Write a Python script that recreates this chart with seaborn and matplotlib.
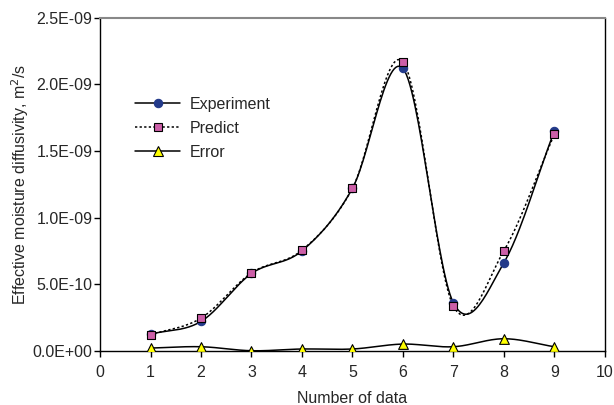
import numpy as np
import pandas as pd
import seaborn as sns
import matplotlib.pyplot as plt
from matplotlib.ticker import FuncFormatter

# ----------------------------
# data
# ----------------------------
n_data = [1, 2, 3, 4, 5, 6, 7, 8, 9]
experiment = [1.25e-10, 2.2e-10, 5.8e-10, 7.5e-10, 1.22e-09, 2.12e-09, 3.6e-10, 6.6e-10, 1.65e-09]
predict = [1.2e-10, 2.45e-10, 5.85e-10, 7.55e-10, 1.22e-09, 2.17e-09, 3.35e-10, 7.5e-10, 1.625e-09]
error = [2.0e-11, 3.0e-11, 0.0, 1.3e-11, 1.3e-11, 5.0e-11, 3.0e-11, 9.0e-11, 3.0e-11]

x_ticks = list(range(0, 11))
y_ticks = [0.0, 5e-10, 1e-09, 1.5e-09, 2e-09, 2.5e-09]


def smooth(x, y, steps=30):
    # catmull-rom style smoothing, like the spreadsheet "smoothed line"
    x = np.asarray(x, float)
    y = np.asarray(y, float)
    px = np.concatenate([[2 * x[0] - x[1]], x, [2 * x[-1] - x[-2]]])
    py = np.concatenate([[2 * y[0] - y[1]], y, [2 * y[-1] - y[-2]]])
    xs, ys = [], []
    t = np.linspace(0, 1, steps)
    for i in range(1, len(px) - 2):
        for p, out in ((px, xs), (py, ys)):
            p0, p1, p2, p3 = p[i - 1], p[i], p[i + 1], p[i + 2]
            out.extend(0.5 * ((2 * p1) + (-p0 + p2) * t
                              + (2 * p0 - 5 * p1 + 4 * p2 - p3) * t ** 2
                              + (-p0 + 3 * p1 - 3 * p2 + p3) * t ** 3))
    return np.array(xs), np.array(ys)


df = pd.DataFrame({"n": n_data, "Experiment": experiment,
                   "Predict": predict, "Error": error})

sns.set_theme(style="white")
plt.rcParams['font.family'] = ['Liberation Sans', 'DejaVu Sans']

fig = plt.figure(figsize=(6.14, 4.05), dpi=100)
ax = fig.add_axes([0.163, 0.134, 0.822, 0.822])

series = [
    ("Experiment", "-", "o", "#233A8A", "#233A8A", 6),
    ("Predict", (0, (1.5, 1.5)), "s", "#CC5FA8", "black", 6),
    ("Error", "-", "^", "#FFFF00", "black", 7),
]

for name, ls, mk, fc, ec, ms in series:
    sx, sy = smooth(df["n"], df[name])
    sns.lineplot(x=sx, y=sy, ax=ax, color="black", linewidth=1.1,
                 linestyle=ls, sort=False, estimator=None)
    sns.scatterplot(data=df, x="n", y=name, ax=ax, marker=mk, s=ms ** 2,
                    color=fc, edgecolor=ec, linewidth=0.8, zorder=5)
    # legend proxy
    ax.plot([], [], color="black", linestyle=ls, linewidth=1.1, marker=mk,
            markersize=ms, markerfacecolor=fc, markeredgecolor=ec,
            markeredgewidth=0.8, label=name)

ax.set_xlim(0, 10)
ax.set_ylim(0, 2.5e-09)
ax.set_xticks(x_ticks)
ax.set_yticks(y_ticks)
ax.yaxis.set_major_formatter(FuncFormatter(lambda v, p: f"{v:.1E}"))

ax.tick_params(axis="both", direction="out", length=4, width=1,
               color="black", labelsize=11.5, left=True, bottom=True)
ax.tick_params(axis="y", pad=1.5)
ax.tick_params(axis="x", pad=6.5)
for side in ["left", "bottom", "right"]:
    ax.spines[side].set_color("black")
    ax.spines[side].set_linewidth(1)
ax.spines["top"].set_color("#888888")
ax.spines["top"].set_linewidth(1.5)

ax.set_xlabel("Number of data", fontsize=11.5, labelpad=8)
ax.set_ylabel("Effective moisture diffusivity, m$^2$/s", fontsize=11.5, labelpad=1)

ax.legend(loc="upper left", bbox_to_anchor=(0.057, 0.782), frameon=False,
          fontsize=11.5, handlelength=2.8, labelspacing=0.56, handletextpad=0.6,
          borderaxespad=0)

fig.savefig("out.png", dpi=100)
